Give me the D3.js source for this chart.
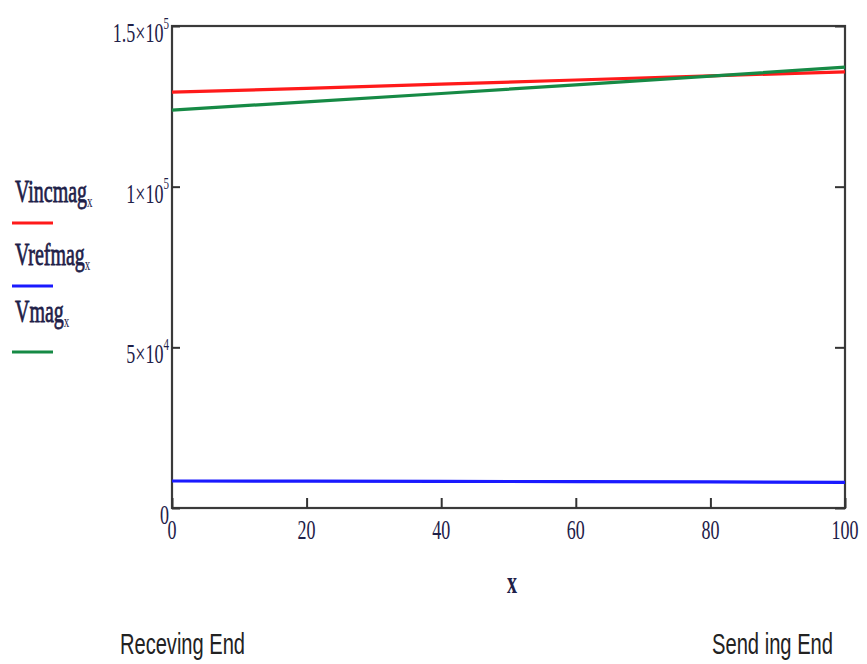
<!DOCTYPE html>
<html><head><meta charset="utf-8">
<script src="https://cdn.jsdelivr.net/npm/d3@7"></script>
<style>body{margin:0;background:#fff}svg{display:block}</style>
</head><body>
<svg id="c" width="867" height="664"></svg>
<script>
const xs = [0, 20, 40, 60, 80, 100];
const vincmag = [129400, 130600, 131900, 133200, 134500, 135700];
const vrefmag = [8400, 8350, 8300, 8200, 8100, 8000];
const vmag = [123800, 126400, 129000, 131700, 134400, 137200];
const xTicks = [0, 20, 40, 60, 80, 100];
const yTicks = [0, 50000, 100000, 150000];
const yTickLabels = [["0",""], ["5×10","4"], ["1×10","5"], ["1.5×10","5"]];
const legendNames = ["Vincmag", "Vrefmag", "Vmag"];
const colors = ["#ff1a1a", "#1a1aff", "#168a45"];

const svg = d3.select("#c");
const L = 172, R = 845, T = 26, B = 508;
const x = d3.scaleLinear().domain([0, 100]).range([L, R]);
const y = d3.scaleLinear().domain([0, 150000]).range([B, T]);
const serif = "'Liberation Serif','Times New Roman',serif";
const sans = "'Liberation Sans',Arial,sans-serif";
const textCol = "#1e2048";
const SY = 1.5; // vertical stretch of the picture's lettering

function stretchedText(px, py, anchor, size, sy) {
  return svg.append("g").attr("transform", `translate(${px},${py}) scale(1,${sy})`)
    .append("text").attr("text-anchor", anchor).attr("font-size", size);
}

// frame
svg.append("rect").attr("x", L).attr("y", T).attr("width", R - L).attr("height", B - T)
  .attr("fill", "none").attr("stroke", "#3a3a3a").attr("stroke-width", 2.2);

// x axis ticks (inward)
const xa = d3.axisBottom(x).tickValues(xTicks).tickSize(-10).tickFormat("");
const gx = svg.append("g").attr("transform", `translate(0,${B})`).call(xa);
gx.select(".domain").remove();
gx.selectAll(".tick line").attr("stroke", "#333").attr("stroke-width", 2);
xTicks.forEach(v => {
  stretchedText(x(v), 539, "middle", 18, SY).attr("font-family", serif).attr("fill", textCol).text(d3.format("d")(v));
});

// y ticks left and right
const ya = d3.axisLeft(y).tickValues(yTicks).tickSize(-8).tickFormat("");
const gy = svg.append("g").attr("transform", `translate(${L},0)`).call(ya);
gy.select(".domain").remove();
gy.selectAll(".tick line").attr("stroke", "#333").attr("stroke-width", 2);
const yr = d3.axisRight(y).tickValues(yTicks).tickSize(-10).tickFormat("");
const gyr = svg.append("g").attr("transform", `translate(${R},0)`).call(yr);
gyr.select(".domain").remove();
gyr.selectAll(".tick line").attr("stroke", "#333").attr("stroke-width", 2);

// y labels
yTicks.forEach((v, i) => {
  const t = stretchedText(L - 3, y(v) + 16, "end", 18, SY).attr("font-family", serif).attr("fill", textCol);
  t.append("tspan").text(yTickLabels[i][0]);
  if (yTickLabels[i][1]) t.append("tspan").attr("dy", -9).attr("font-size", 11).text(yTickLabels[i][1]);
});

// lines
const line = d3.line().x((d, i) => x(xs[i])).y(d => y(d));
[vincmag, vrefmag, vmag].forEach((s, i) => {
  svg.append("path").datum(s).attr("d", line).attr("fill", "none")
    .attr("stroke", colors[i]).attr("stroke-width", 3.2);
});

// legend
const legY = [202, 265, 322];
const legLineY = [223, 286, 352];
legendNames.forEach((n, i) => {
  const t = stretchedText(15, legY[i], "start", 20, 1.55).attr("font-family", serif)
    .attr("fill", textCol).attr("stroke", textCol).attr("stroke-width", 0.5);
  t.append("tspan").text(n);
  t.append("tspan").attr("dy", 3).attr("font-size", 11).attr("stroke-width", 0).text("x");
  svg.append("line").attr("x1", 12).attr("x2", 53).attr("y1", legLineY[i]).attr("y2", legLineY[i])
    .attr("stroke", colors[i]).attr("stroke-width", 3);
});

// x axis title
stretchedText(512, 593, "middle", 20, 1.6).attr("font-family", serif).attr("font-weight", "bold")
  .attr("fill", textCol).text("x");

stretchedText(120, 654, "start", 20, 1.5).attr("font-family", sans).attr("fill", "#222")
  .attr("textLength", 125).attr("lengthAdjust", "spacingAndGlyphs").text("Receving End");
stretchedText(712, 654, "start", 20, 1.5).attr("font-family", sans).attr("fill", "#222")
  .attr("textLength", 121).attr("lengthAdjust", "spacingAndGlyphs").text("Send ing End");
</script>
</body></html>
